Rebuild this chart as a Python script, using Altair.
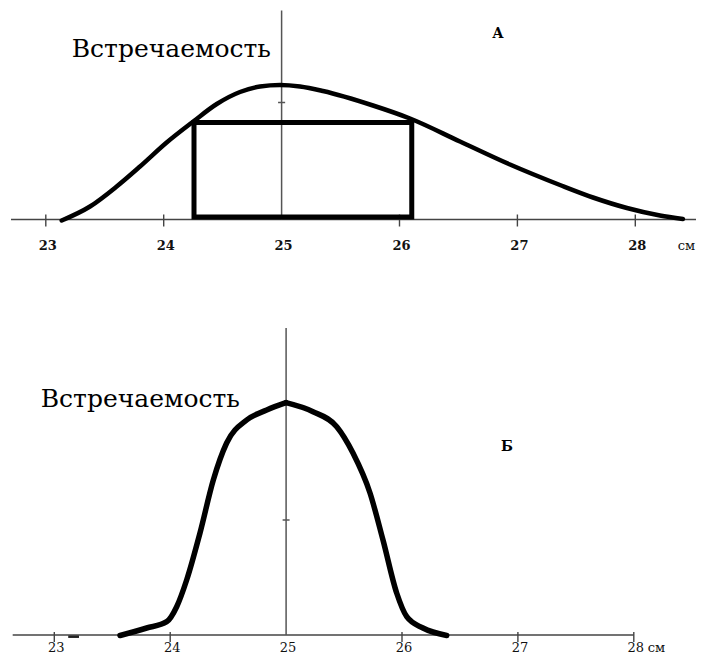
import altair as alt
import pandas as pd

FONT = "DejaVu Serif, Liberation Serif, Times New Roman, serif"

# ---------------- Panel A (wide, skewed distribution) ----------------
a_size = [23.135, 23.375, 23.601, 23.799, 24.025, 24.251, 24.450, 24.647, 24.817,
          24.986, 25.156, 25.351, 25.775, 26.089, 26.513, 26.937, 27.361, 27.641,
          27.929, 28.209, 28.404]
a_freq = [-1.0, 13.0, 33.0, 53.0, 77.0, 98.0, 115.5, 127.5, 133.0,
          134.5, 133.0, 128.5, 114.0, 101.0, 78.0, 55.0, 34.5, 22.0,
          11.5, 4.0, 0.5]
a_box_size = [24.257, 26.104]
a_box_freq = [2.5, 97.0]
a_tick_vals = [23, 24, 26, 27, 28]
a_label_vals = [23, 24, 25, 26, 27, 28]
a_label_text = ["23", "24", "25", "26", "27", "28"]

# ---------------- Panel B (narrow distribution) ----------------
b_size = [23.567, 23.797, 23.970, 24.056, 24.142, 24.257, 24.372, 24.487, 24.660,
          24.833, 24.999, 25.232, 25.437, 25.577, 25.724, 25.836, 25.954, 26.041,
          26.181, 26.386]
b_freq = [-0.5, 7.0, 13.3, 28.3, 55.0, 102.0, 155.0, 192.0, 215.0,
          225.0, 232.3, 223.3, 208.3, 182.0, 142.0, 95.0, 42.0, 18.3,
          7.0, -0.5]
b_tick_vals = [23, 24, 26, 27, 28]
b_label_vals = [23, 24, 25, 26, 27, 28]
b_label_text = ["23", "24", "25", "26", "27", "28"]

title_text = "Встречаемость"
unit_text = "см"
panel_names = ["А", "Б"]

W, H = 688, 648


def xdom(p23, k):
    return [23 + (8 - p23) / k, 23 + (8 + W - p23) / k]


XA = xdom(45.8, 117.9)
XB = xdom(54.3, 115.9)
YA = [219.5 - (8 + H), 219.5 - 8]
YB = [635.0 - (8 + H), 635.0 - 8]


def X(dom, field="x"):
    return alt.X(f"{field}:Q", scale=alt.Scale(domain=dom, nice=False, zero=False), axis=None)


def Y(dom, field="y"):
    return alt.Y(f"{field}:Q", scale=alt.Scale(domain=dom, nice=False, zero=False), axis=None)


def panel(xd, yd, size, freq, tick_vals, label_vals, label_text, axis_ext, tick_ext,
          vline_top, vtick, label_y, label_bold, label_size, unit_pos, title_pos,
          name_pos, name, curve_w, box=None, dash=None, split_at_peak=False):
    layers = []
    layers.append(
        alt.Chart(pd.DataFrame({"x": [axis_ext[0]], "x2": [axis_ext[1]], "y": [0.0]}))
        .mark_rule(color="#444", strokeWidth=1.4)
        .encode(x=X(xd), x2="x2:Q", y=Y(yd))
    )
    layers.append(
        alt.Chart(pd.DataFrame({"x": tick_vals, "y": [tick_ext[0]] * len(tick_vals),
                                "y2": [tick_ext[1]] * len(tick_vals)}))
        .mark_rule(color="#444", strokeWidth=1.4)
        .encode(x=X(xd), y=Y(yd), y2="y2:Q")
    )
    layers.append(
        alt.Chart(pd.DataFrame({"x": label_vals, "y": [label_y] * len(label_vals),
                                "t": label_text}))
        .mark_text(font=FONT, fontSize=label_size,
                   fontWeight="bold" if label_bold else "normal",
                   baseline="middle", align="center", dx=2, color="#111")
        .encode(x=X(xd), y=Y(yd), text="t:N")
    )
    layers.append(
        alt.Chart(pd.DataFrame({"x": [unit_pos[0]], "y": [unit_pos[1]], "t": [unit_text]}))
        .mark_text(font=FONT, fontSize=label_size, baseline="middle", align="left",
                   color="#111")
        .encode(x=X(xd), y=Y(yd), text="t:N")
    )
    layers.append(
        alt.Chart(pd.DataFrame({"x": [25.0], "y": [0.0], "y2": [vline_top]}))
        .mark_rule(color="#555", strokeWidth=1.5)
        .encode(x=X(xd), y=Y(yd), y2="y2:Q")
    )
    layers.append(
        alt.Chart(pd.DataFrame({"x": [24.97], "x2": [25.03], "y": [vtick]}))
        .mark_rule(color="#555", strokeWidth=1.5)
        .encode(x=X(xd), x2="x2:Q", y=Y(yd))
    )
    if dash is not None:
        layers.append(
            alt.Chart(pd.DataFrame({"x": [dash[0]], "x2": [dash[1]], "y": [dash[2]]}))
            .mark_rule(color="#222", strokeWidth=2.5)
            .encode(x=X(xd), x2="x2:Q", y=Y(yd))
        )
    if box is not None:
        layers.append(
            alt.Chart(pd.DataFrame({"x": [box[0][0]], "x2": [box[0][1]],
                                    "y": [box[1][0]], "y2": [box[1][1]]}))
            .mark_rect(fillOpacity=0, stroke="black", strokeWidth=5)
            .encode(x=X(xd), x2="x2:Q", y=Y(yd), y2="y2:Q")
        )
    df = pd.DataFrame({"x": size, "y": freq})
    if split_at_peak:
        ip = int(df["y"].idxmax())
        left = df.iloc[: ip + 1].assign(side="L")
        right = df.iloc[ip:].assign(side="R")
        df = pd.concat([left, right], ignore_index=True)
    else:
        df = df.assign(side="L")
    layers.append(
        alt.Chart(df)
        .mark_line(color="black", strokeWidth=curve_w, interpolate="monotone",
                   strokeCap="round", strokeJoin="round")
        .encode(x=X(xd), y=Y(yd), detail="side:N")
    )
    layers.append(
        alt.Chart(pd.DataFrame({"x": [title_pos[0]], "y": [title_pos[1]], "t": [title_text]}))
        .mark_text(font=FONT, fontSize=25, baseline="alphabetic", align="left", color="black")
        .encode(x=X(xd), y=Y(yd), text="t:N")
    )
    layers.append(
        alt.Chart(pd.DataFrame({"x": [name_pos[0]], "y": [name_pos[1]], "t": [name]}))
        .mark_text(font=FONT, fontSize=14, fontWeight="bold", baseline="middle",
                   align="center", color="black")
        .encode(x=X(xd), y=Y(yd), text="t:N")
    )
    return layers


layers_a = panel(XA, YA, a_size, a_freq, a_tick_vals, a_label_vals, a_label_text,
                 axis_ext=[22.705, 28.65], tick_ext=[5, -7], vline_top=209, vtick=117,
                 label_y=-26.5, label_bold=True, label_size=13, unit_pos=[28.36, -26.0],
                 title_pos=[23.22, 162.8], name_pos=[26.835, 185.5], name=panel_names[0],
                 curve_w=4.5, box=[a_box_size, a_box_freq])

layers_b = panel(XB, YB, b_size, b_freq, b_tick_vals, b_label_vals, b_label_text,
                 axis_ext=[22.641, 28.0], tick_ext=[3, -7], vline_top=307, vtick=115,
                 label_y=-12.5, label_bold=False, label_size=13, unit_pos=[28.12, -12.5],
                 title_pos=[22.883, 228.3], name_pos=[26.906, 188.0], name=panel_names[1],
                 curve_w=5.5, dash=[23.12, 23.213, -1.7], split_at_peak=True)

chart = (
    alt.layer(*(layers_a + layers_b))
    .resolve_scale(x="independent", y="independent")
    .properties(width=W, height=H, padding=0, autosize=alt.AutoSizeParams(type="none"),
                background="white")
    .configure_view(stroke=None)
)

chart.save("out.html", embed_options={"renderer": "svg", "actions": False})
